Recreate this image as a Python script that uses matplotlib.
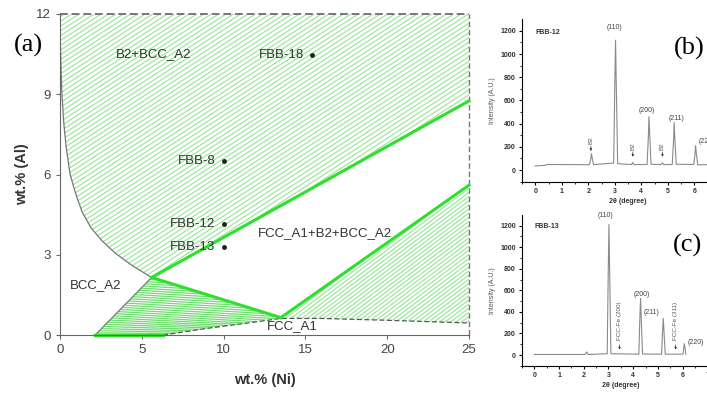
import numpy as np
import matplotlib.pyplot as plt
from matplotlib.patches import Polygon
from matplotlib.collections import LineCollection

plt.rcParams['font.family'] = ['Liberation Sans', 'DejaVu Sans']

# ---- phase diagram boundaries (wt.% Ni, wt.% Al) ----
curve_ni = [0.0, 0.02, 0.06, 0.12, 0.22, 0.38, 0.62, 0.95, 1.35, 1.9, 2.6, 3.4, 4.4, 5.6]
curve_al = [12.0, 11.0, 10.0, 9.0, 8.0, 7.0, 6.0, 5.3, 4.6, 4.0, 3.5, 3.05, 2.6, 2.15]
triple = (5.6, 2.15)
b2_edge_end = (25.0, 8.75)
fcc_kink = (13.5, 0.65)
fcc_edge_end = (25.0, 5.6)
bcc_foot = (2.15, 0.0)
solvus_ni = [6.3, 9.0, 11.5, 13.5, 16.0, 20.0, 25.0]
solvus_al = [0.0, 0.25, 0.45, 0.62, 0.62, 0.55, 0.45]

region_labels = ["B2+BCC_A2", "FCC_A1+B2+BCC_A2", "BCC_A2", "FCC_A1"]
region_pos = [(5.7, 10.5), (16.2, 3.8), (2.2, 1.85), (14.2, 0.35)]

alloys = ["FBB-18", "FBB-8", "FBB-12", "FBB-13"]
alloy_ni = [15.4, 10.0, 10.0, 10.0]
alloy_al = [10.45, 6.5, 4.15, 3.3]

# ---- XRD patterns (2theta, intensity) ----
fbb12_x = [0.0, 0.35, 0.45, 2.04, 2.09, 2.12, 2.16, 2.2, 2.96, 3.0, 3.03, 3.06, 3.11,
           3.63, 3.68, 3.73, 4.22, 4.27, 4.29, 4.32, 4.37, 4.74, 4.8, 4.85,
           5.17, 5.22, 5.24, 5.27, 5.32, 5.98, 6.03, 6.05, 6.08, 6.13, 6.7]
fbb12_y = [35, 40, 48, 46, 90, 140, 90, 47, 60, 700, 1120, 700, 55,
           47, 65, 47, 48, 300, 460, 300, 50, 47, 62, 47,
           48, 260, 410, 260, 50, 48, 140, 210, 140, 46, 46]
fbb12_peaks = ["(110)", "(200)", "(211)", "(220)"]
fbb12_peak_pos = [(3.0, 1230), (4.2, 510), (5.35, 445), (6.15, 250)]
fbb12_b2 = [2.1, 3.68, 4.8]
fbb12_b2_top = [290, 240, 240]

fbb13_x = [0.0, 2.06, 2.12, 2.18, 2.95, 2.99, 3.02, 3.05, 3.1, 4.23, 4.27, 4.3, 4.33, 4.38,
           5.15, 5.19, 5.22, 5.25, 5.3, 6.02, 6.05, 6.07, 6.1, 6.13]
fbb13_y = [5, 5, 28, 5, 12, 750, 1210, 750, 12, 8, 330, 525, 330, 9,
           8, 210, 340, 210, 8, 8, 70, 105, 70, 8]
fbb13_peaks = ["(110)", "(200)", "(211)", "(220)"]
fbb13_peak_pos = [(2.9, 1290), (4.35, 565), (4.75, 390), (6.2, 120)]
fbb13_fcc = ["FCC-Fe (200)", "FCC-Fe (311)"]
fbb13_fcc_x = [3.45, 5.72]

W, H = 707, 394
fig = plt.figure(figsize=(W / 100, H / 100), dpi=100)

# ================= (a) phase diagram =================
ax = fig.add_axes([60 / W, 59 / H, 409 / W, 321 / H])
ax.set_xlim(0, 25)
ax.set_ylim(0, 12)
px_x = 409 / 25   # pixels per wt.% Ni
px_y = 321 / 12   # pixels per wt.% Al

hatch_col = '#94e594'
bright = '#2ee02e'
edge = '#777777'


def hatch(poly, angle, spacing, color, lw):
    """Parallel lines at a screen angle, clipped to a polygon."""
    patch = Polygon(poly, closed=True, facecolor='none', edgecolor='none')
    ax.add_patch(patch)
    t = np.tan(np.radians(angle)) * px_x / px_y
    step = spacing / np.cos(np.radians(angle)) / px_y
    segs = [[(0, c), (25, c + 25 * t)] for c in np.arange(-25 * t - 1, 13, step)]
    lc = LineCollection(segs, colors=color, linewidths=lw)
    lc.set_clip_path(patch)
    ax.add_collection(lc)


def resample(path, n):
    p = np.array(path, float)
    sp = p * [px_x, px_y]
    d = np.r_[0, np.cumsum(np.hypot(*np.diff(sp, axis=0).T))]
    t = np.linspace(0, d[-1], n)
    return np.c_[np.interp(t, d, p[:, 0]), np.interp(t, d, p[:, 1])]


# upper two-phase region B2+BCC_A2
upper = list(zip(curve_ni, curve_al)) + [b2_edge_end, (25, 12)]
hatch(upper, 33, 4.0, hatch_col, 0.8)

# lower right region
lower_r = [fcc_kink, fcc_edge_end] + list(zip(solvus_ni[::-1], solvus_al[::-1]))[:-3]
hatch(lower_r, 37, 3.3, hatch_col, 0.8)

# lower left region: tie-line fan
left_path = [triple, bcc_foot]
right_path = [triple, fcc_kink] + list(zip(solvus_ni[:3][::-1], solvus_al[:3][::-1]))
a = resample(left_path, 28)[1:-1]
b = resample(right_path, 28)[1:-1]
ax.add_collection(LineCollection([[p, q] for p, q in zip(a, b)], colors='#6fdc6f', linewidths=0.9))

# boundaries
ax.plot(curve_ni, curve_al, color=edge, lw=0.9)
ax.plot([bcc_foot[0], triple[0]], [bcc_foot[1], triple[1]], color=edge, lw=0.9)
ax.plot(solvus_ni, solvus_al, color='#555555', lw=0.9, ls=(0, (4, 2)))
ax.plot([0, 25], [12, 12], color='#777777', lw=1.4, ls=(0, (4, 2)), clip_on=False)
ax.plot([25, 25], [0, 12], color='#777777', lw=1.0, ls=(0, (4, 2)), clip_on=False)
ax.plot([triple[0], b2_edge_end[0]], [triple[1], b2_edge_end[1]], color=bright, lw=2.2, clip_on=False)
ax.plot([triple[0], fcc_kink[0]], [triple[1], fcc_kink[1]], color=bright, lw=2.2)
ax.plot([fcc_kink[0], fcc_edge_end[0]], [fcc_kink[1], fcc_edge_end[1]], color=bright, lw=2.2, clip_on=False)
ax.plot([bcc_foot[0], solvus_ni[0]], [0, 0], color=bright, lw=2.5, clip_on=False)

for s, (x, y) in zip(region_labels, region_pos):
    ax.text(x, y, s, fontsize=9.5, color='#333333', ha='center', va='center')
ax.plot(alloy_ni, alloy_al, 'o', color='#222222', ms=2.5)
for s, x, y in zip(alloys, alloy_ni, alloy_al):
    ax.text(x - 0.5, y, s, fontsize=9.5, color='#333333', ha='right', va='center')

ax.set_xticks([0, 5, 10, 15, 20, 25])
ax.set_yticks([0, 3, 6, 9, 12])
ax.tick_params(direction='out', length=3, color='#666666', labelcolor='#444444', labelsize=9.5)
for side in ['top', 'right']:
    ax.spines[side].set_visible(False)
for side in ['left', 'bottom']:
    ax.spines[side].set_color('#666666')
ax.set_xlabel('wt.% (Ni)', fontsize=10.5, fontweight='bold', color='#333333', labelpad=12)
ax.set_ylabel('wt.% (Al)', fontsize=10.5, fontweight='bold', color='#333333', labelpad=5)
fig.text(28 / W, 1 - 45 / H, '(a)', fontsize=19, family='Liberation Serif', ha='center', va='center')


# ================= (b), (c) XRD =================
def xrd_axes(rect, x, y, name):
    a = fig.add_axes(rect)
    a.plot(x, y, color='#8a8a8a', lw=0.8)
    a.set_xlim(-0.5, 7.5)
    a.set_ylim(-100, 1300)
    a.set_xticks(range(0, 8))
    a.set_xticks(np.arange(-0.5, 7.5, 1), minor=True)
    a.set_yticks(range(0, 1201, 200))
    a.set_yticks(range(-100, 1300, 200), minor=True)
    a.tick_params(which='major', direction='out', length=2.5, width=0.8, labelsize=5, pad=2)
    a.tick_params(which='minor', direction='out', length=1.5, width=0.6)
    for lab in a.get_xticklabels() + a.get_yticklabels():
        lab.set_fontweight('bold')
        lab.set_color('#333333')
    for side in ['top', 'right']:
        a.spines[side].set_visible(False)
    a.set_ylabel('Intensity (A.U.)', fontsize=5, color='#555555', labelpad=3)
    a.set_xlabel('2θ (degree)', fontsize=5, fontweight='bold', color='#333333', labelpad=2)
    a.text(0.0, 1190, name, fontsize=5, fontweight='bold', color='#333333', va='center')
    return a


axb = xrd_axes([522 / W, 0.539, 212 / W, 0.412], fbb12_x, fbb12_y, 'FBB-12')
for s, (x, y) in zip(fbb12_peaks, fbb12_peak_pos):
    axb.text(x, y, s, fontsize=5, color='#444444', ha='left' if s == '(220)' else 'center', va='center')
for x, top in zip(fbb12_b2, fbb12_b2_top):
    axb.text(x, top, 'B2', fontsize=4.5, color='#555555', rotation=90, ha='center', va='top')
    axb.annotate('', xy=(x, top - 150), xytext=(x, top - 60),
                 arrowprops=dict(arrowstyle='-|>', color='#333333', lw=0.5, mutation_scale=3))
fig.text(689 / W, 1 - 48 / H, '(b)', fontsize=19, family='Liberation Serif', ha='center', va='center')

axc = xrd_axes([522 / W, 0.0716, 197.6 / W, 0.383], fbb13_x, fbb13_y, 'FBB-13')
for s, (x, y) in zip(fbb13_peaks, fbb13_peak_pos):
    axc.text(x, y, s, fontsize=5, color='#444444', ha='left' if s == '(220)' else 'center', va='center')
for s, x in zip(fbb13_fcc, fbb13_fcc_x):
    axc.text(x, 140, s, fontsize=4.5, color='#555555', rotation=90, ha='center', va='bottom')
    axc.annotate('', xy=(x, 25), xytext=(x, 120),
                 arrowprops=dict(arrowstyle='-|>', color='#333333', lw=0.5, mutation_scale=3))
fig.text(687 / W, 1 - 245 / H, '(c)', fontsize=19, family='Liberation Serif', ha='center', va='center')

fig.savefig('out.png', dpi=100)
